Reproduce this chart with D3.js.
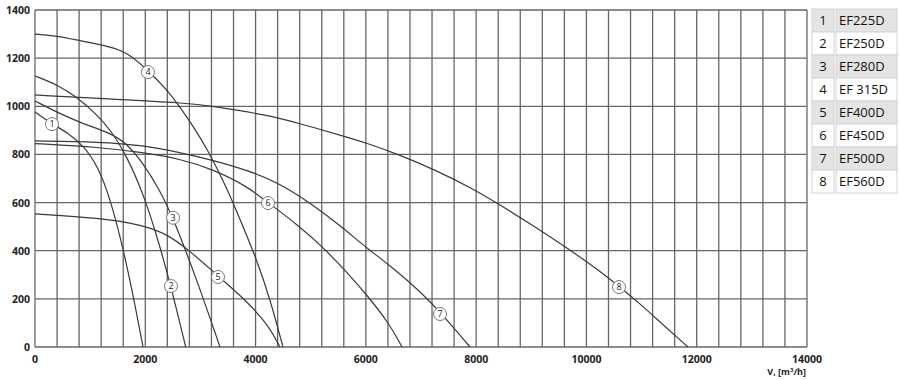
<!DOCTYPE html>
<html><head><meta charset="utf-8">
<script src="https://cdn.jsdelivr.net/npm/d3@7"></script>
<style>html,body{margin:0;padding:0;background:#fff;}svg{display:block;}</style>
</head><body>
<svg id="chart" width="900" height="380"></svg>
<script>
const xTicks = [0,2000,4000,6000,8000,10000,12000,14000];
const yTicks = [0,200,400,600,800,1000,1200,1400];
const models = ["EF225D","EF250D","EF280D","EF 315D","EF400D","EF450D","EF500D","EF560D"];

const curve1 = [[0,976],[308,926],[600,890],[900,832],[1150,745],[1350,625],[1550,455],[1750,250],[1959,0]];
const curve2 = [[0,1126],[400,1090],[762,1038],[1100,970],[1360,905],[1650,800],[1959,640],[2200,470],[2466,253],[2733,0]];
const curve3 = [[0,1022],[400,975],[816,932],[1360,890],[1668,845],[1959,764],[2267,650],[2503,537],[2938,278],[3355,0]];
const curve4 = [[0,1300],[399,1293],[816,1272],[1360,1248],[1668,1225],[2049,1150],[2394,1068],[2630,997],[2865,918],[3119,825],[3482,660],[3718,530],[4026,360],[4262,200],[4497,0]];
const curve5 = [[0,553],[1179,536],[1959,507],[2394,468],[2756,410],[3319,295],[3772,205],[4207,100],[4443,0]];
const curve6 = [[0,845],[1179,830],[1959,808],[2630,782],[3228,738],[3845,668],[4225,600],[4751,510],[5223,415],[5700,300],[6021,215],[6402,105],[6656,0]];
const curve7 = [[0,856],[1179,852],[1959,838],[2630,808],[3228,776],[3845,735],[4443,680],[5041,590],[5531,505],[6021,410],[6402,345],[6801,268],[7163,190],[7520,100],[7889,0]];
const curve8 = [[0,1047],[1179,1032],[2756,1014],[3228,1000],[4207,964],[4806,928],[5586,877],[6021,847],[6565,802],[7218,740],[7925,660],[8378,598],[9031,505],[9648,412],[10246,315],[10591,252],[10972,180],[11400,90],[11842,0]];
const curves = [curve1,curve2,curve3,curve4,curve5,curve6,curve7,curve8];
const labelPoints = [[308,926],[2466,253],[2503,537],[2049,1142],[3319,291],[4225,598],[7345,137],[10591,249]];

const svg = d3.select("#chart");
const x = d3.scaleLinear().domain([0,14000]).range([35,807]);
const y = d3.scaleLinear().domain([0,1400]).range([347,10]);
const tickFont = "'Open Sans', 'DejaVu Sans', sans-serif";

// grid
const g = svg.append("g");
g.selectAll("line.v").data(d3.range(0,14001,400)).join("line")
  .attr("x1",d=>x(d)).attr("x2",d=>x(d)).attr("y1",y(0)).attr("y2",y(1400))
  .attr("stroke","#666").attr("stroke-width",1.3);
g.selectAll("line.h").data(yTicks).join("line")
  .attr("x1",x(0)).attr("x2",x(14000)).attr("y1",d=>y(d)).attr("y2",d=>y(d))
  .attr("stroke","#666").attr("stroke-width",1.3);

// axes labels
svg.append("g").selectAll("text").data(xTicks).join("text")
  .attr("x",d=>x(d)).attr("y",363).attr("text-anchor","middle")
  .attr("font-family",tickFont).attr("font-weight","bold").attr("font-size",10.5).attr("fill","#222")
  .text(d=>d);
svg.append("g").selectAll("text").data(yTicks).join("text")
  .attr("x",30).attr("y",d=>y(d)+4).attr("text-anchor","end")
  .attr("font-family",tickFont).attr("font-weight","bold").attr("font-size",10.5).attr("fill","#222")
  .text(d=>d);
const at = svg.append("text").attr("x",806).attr("y",375).attr("text-anchor","end")
  .attr("font-family",tickFont).attr("font-weight","bold").attr("font-size",9).attr("fill","#222");
at.append("tspan").text("V, [m");
at.append("tspan").attr("font-size",6).attr("dy",-3).text("3");
at.append("tspan").attr("dy",3).text("/h]");

// curves
const line = d3.line().x(d=>x(d[0])).y(d=>y(d[1])).curve(d3.curveBasis);
svg.append("g").selectAll("path").data(curves).join("path")
  .attr("d",line).attr("fill","none").attr("stroke","#3a3a3a").attr("stroke-width",1.2);

// curve labels
const lg = svg.append("g").selectAll("g").data(labelPoints).join("g")
  .attr("transform",d=>`translate(${x(d[0])},${y(d[1])})`);
lg.append("circle").attr("r",6.5).attr("fill","#fff").attr("stroke","#777").attr("stroke-width",1);
lg.append("text").attr("text-anchor","middle").attr("y",3.3)
  .attr("font-family",tickFont).attr("font-size",9).attr("fill","#222")
  .text((d,i)=>i+1);

// legend table
const rowH = 23, tableTop = 9;
const rows = svg.append("g").selectAll("g").data(models).join("g")
  .attr("transform",(d,i)=>`translate(0,${tableTop+i*rowH})`);
rows.append("rect").attr("x",812).attr("y",0).attr("width",22).attr("height",rowH)
  .attr("fill",(d,i)=>i%2===0?"#e4e4e4":"#fff").attr("stroke","#d4d4d4").attr("stroke-width",1);
rows.append("rect").attr("x",836).attr("y",0).attr("width",61).attr("height",rowH)
  .attr("fill",(d,i)=>i%2===0?"#e4e4e4":"#fff").attr("stroke","#d4d4d4").attr("stroke-width",1);
rows.append("text").attr("x",823).attr("y",rowH/2+4.5).attr("text-anchor","middle")
  .attr("font-family","'Open Sans', sans-serif").attr("font-size",13).attr("fill","#111")
  .text((d,i)=>i+1);
rows.append("text").attr("x",839).attr("y",rowH/2+4.5)
  .attr("font-family","'Open Sans', sans-serif").attr("font-size",13).attr("fill","#111")
  .text(d=>d);
</script>
</body></html>
